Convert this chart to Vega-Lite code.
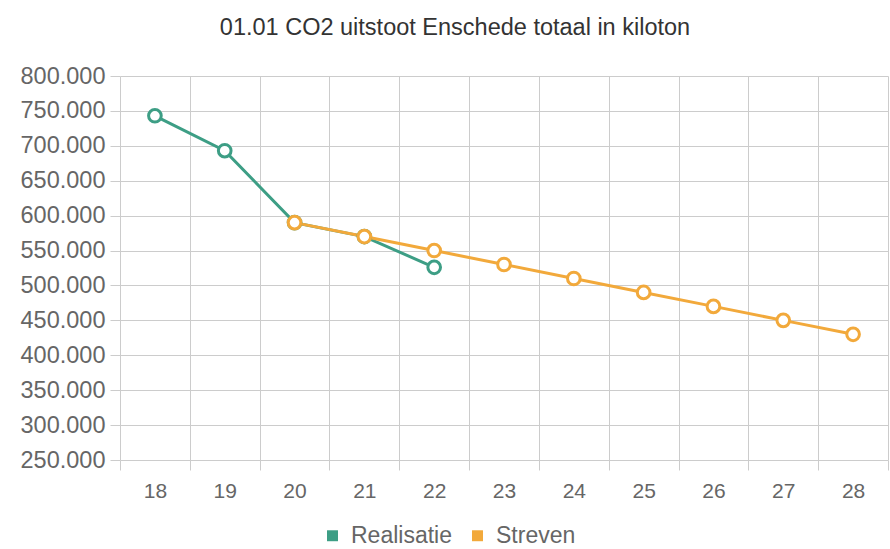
{
  "$schema": "https://vega.github.io/schema/vega-lite/v6.json",
  "width": 768,
  "height": 384,
  "autosize": "none",
  "padding": {"left": 120, "top": 76, "right": 2, "bottom": 89},
  "background": "white",
  "config": {
    "locale": {"number": {"decimal": ",", "thousands": ".", "grouping": [3], "currency": ["€", ""]}},
    "view": {"stroke": null},
    "font": "Liberation Sans"
  },
  "title": {
    "text": "01.01 CO2 uitstoot Enschede totaal in kiloton",
    "fontSize": 23.5,
    "fontWeight": "normal",
    "color": "#333333",
    "font": "Liberation Sans",
    "anchor": "middle",
    "dx": -49,
    "offset": 25
  },
  "data": {
    "values": [
      {"jaar": "18", "serie": "Realisatie", "waarde": 743000},
      {"jaar": "19", "serie": "Realisatie", "waarde": 693000},
      {"jaar": "20", "serie": "Realisatie", "waarde": 590000},
      {"jaar": "21", "serie": "Realisatie", "waarde": 570000},
      {"jaar": "22", "serie": "Realisatie", "waarde": 526000},
      {"jaar": "20", "serie": "Streven", "waarde": 590000},
      {"jaar": "21", "serie": "Streven", "waarde": 570000},
      {"jaar": "22", "serie": "Streven", "waarde": 550000},
      {"jaar": "23", "serie": "Streven", "waarde": 530000},
      {"jaar": "24", "serie": "Streven", "waarde": 510000},
      {"jaar": "25", "serie": "Streven", "waarde": 490000},
      {"jaar": "26", "serie": "Streven", "waarde": 470000},
      {"jaar": "27", "serie": "Streven", "waarde": 450000},
      {"jaar": "28", "serie": "Streven", "waarde": 430000}
    ]
  },
  "mark": {
    "type": "line",
    "strokeWidth": 3,
    "point": {"filled": false, "fill": "white", "size": 160, "strokeWidth": 3}
  },
  "encoding": {
    "x": {
      "field": "jaar",
      "type": "ordinal",
      "scale": {"type": "band", "paddingInner": 0, "paddingOuter": 0, "domain": ["18","19","20","21","22","23","24","25","26","27","28"]},
      "axis": {
        "title": null,
        "labelAngle": 0,
        "tickBand": "extent",
        "tickExtra": true,
        "grid": true,
        "gridColor": "#cccccc",
        "tickColor": "#cccccc",
        "tickSize": 10,
        "domain": false,
        "labelFontSize": 21,
        "labelColor": "#666666",
        "labelPadding": 10,
        "labelFont": "Liberation Sans"
      }
    },
    "y": {
      "field": "waarde",
      "type": "quantitative",
      "scale": {"domain": [250000, 800000], "nice": false, "zero": false},
      "axis": {
        "title": null,
        "values": [250000, 300000, 350000, 400000, 450000, 500000, 550000, 600000, 650000, 700000, 750000, 800000],
        "format": ",d",
        "grid": true,
        "gridColor": "#cccccc",
        "tickColor": "#cccccc",
        "tickSize": 10,
        "domain": false,
        "labelFontSize": 23.5,
        "labelColor": "#666666",
        "labelPadding": 5,
        "labelFont": "Liberation Sans"
      }
    },
    "color": {
      "field": "serie",
      "type": "nominal",
      "scale": {"domain": ["Realisatie", "Streven"], "range": ["#3d9e85", "#f2a93b"]},
      "legend": {
        "title": null,
        "orient": "none",
        "direction": "horizontal",
        "legendX": 201,
        "legendY": 448,
        "symbolType": "square",
        "symbolSize": 120,
        "symbolStrokeWidth": 0,
        "labelFontSize": 23,
        "labelColor": "#666666",
        "labelFont": "Liberation Sans",
        "labelOffset": 7,
        "columnPadding": 14,
        "encode": {"symbols": {"update": {"fill": {"scale": "color", "field": "value"}, "fillOpacity": {"value": 1}}}}
      }
    }
  }
}
